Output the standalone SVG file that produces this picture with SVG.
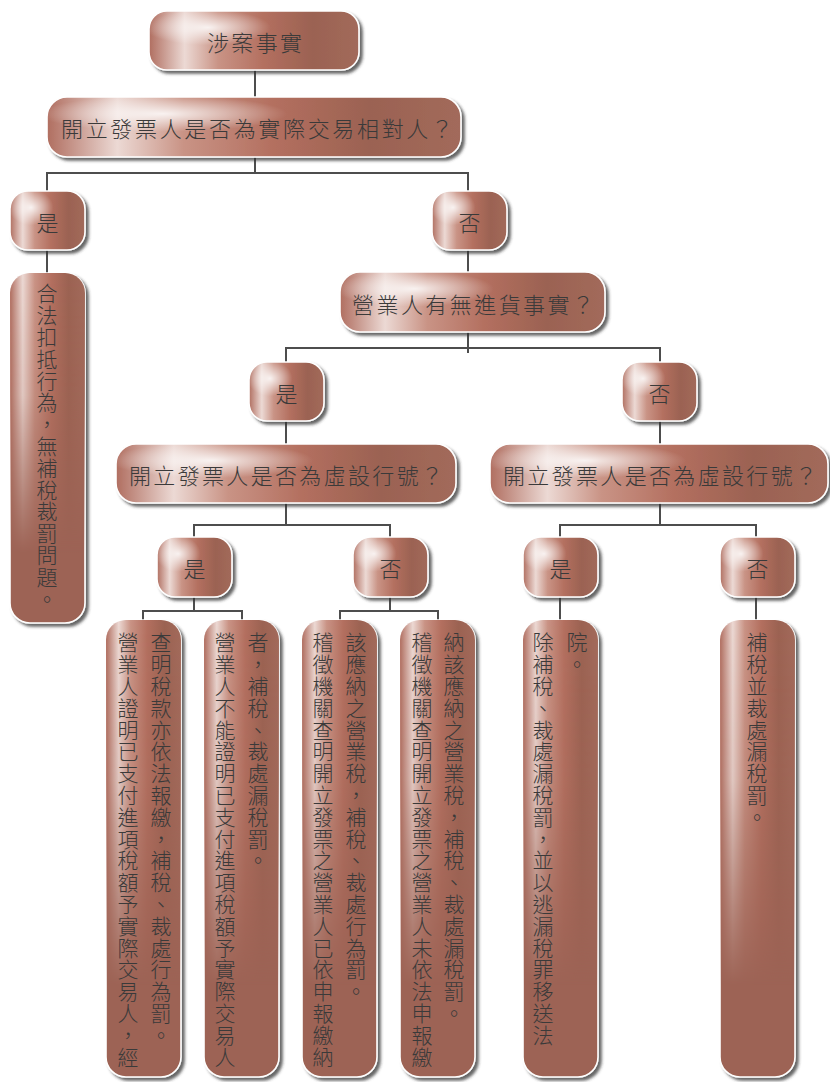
<svg xmlns="http://www.w3.org/2000/svg" width="830" height="1082" viewBox="0 0 830 1082">
<defs>
<linearGradient id="base" x1="0" y1="0" x2="1" y2="0">
<stop offset="0" stop-color="#b06e60"/>
<stop offset="0.17" stop-color="#ecd9d4"/>
<stop offset="0.33" stop-color="#c99385"/>
<stop offset="0.55" stop-color="#b36f5f"/>
<stop offset="0.78" stop-color="#9b6252"/>
<stop offset="1" stop-color="#a26a5b"/>
</linearGradient>
<radialGradient id="shine" cx="0.28" cy="0.28" r="0.3">
<stop offset="0" stop-color="#ffffff" stop-opacity="0.85"/>
<stop offset="1" stop-color="#ffffff" stop-opacity="0"/>
</radialGradient>
<linearGradient id="fade" x1="0" y1="0" x2="0" y2="1">
<stop offset="0" stop-color="#fff"/>
<stop offset="0.35" stop-color="#fff" stop-opacity="0.85"/>
<stop offset="0.8" stop-color="#fff" stop-opacity="0"/>
</linearGradient>
<mask id="tallMask" maskContentUnits="objectBoundingBox">
<rect x="0" y="0" width="1" height="1" fill="url(#fade)"/>
</mask>
<filter id="shadow" x="-20%" y="-20%" width="140%" height="140%">
<feDropShadow dx="3" dy="3" stdDeviation="1.5" flood-color="#333" flood-opacity="0.75"/>
</filter>
</defs>
<style>
.box { fill: url(#base); stroke: #ffffff; stroke-width: 1.6; filter: url(#shadow); }
.tall { fill: #9d6454; stroke: #ffffff; stroke-width: 1.6; filter: url(#shadow); }
.hl { fill: url(#base); }
.sh { fill: url(#shine); }
.t { font-family: "Noto Sans CJK TC", "Noto Sans CJK SC", sans-serif; font-size: 22px; font-weight: 300; fill: #3a3a3a; dominant-baseline: central; }
.c { text-anchor: middle; }
.v { font-family: "Noto Sans CJK TC", "Noto Sans CJK SC", sans-serif; font-size: 21px; font-weight: 300; letter-spacing: 0.8px; fill: #3a3a3a; writing-mode: vertical-rl; }
.ln { stroke: #4d4d4d; stroke-width: 2; fill: none; }
</style>

<g id="connectors" class="ln">
<path d="M255,70 V97"/>
<path d="M255,157 V173 M47,191 V173 H468 V191"/>
<path d="M47,250 V273"/>
<path d="M468,250 V272"/>
<path d="M468,332 V353 M286,362 V348 H660 V362"/>
<path d="M286,421 V444 M660,421 V444"/>
<path d="M286,503 V525 M194,537 V525 H390 V537"/>
<path d="M660,503 V525 M560,537 V525 H756 V537"/>
<path d="M194,597 V611 M143,620 V611 H242 V620"/>
<path d="M390,597 V611 M340,620 V611 H438 V620"/>
<path d="M560,597 V620 M756,597 V620"/>
</g>

<g id="n1">
<rect class="box" x="149" y="11" width="210" height="59" rx="18"/>
<rect class="sh" x="149" y="11" width="210" height="59" rx="18"/>
<text class="t" x="207" y="41" textLength="95" lengthAdjust="spacing">涉案事實</text>
</g>
<g id="n2">
<rect class="box" x="47" y="97" width="414" height="60" rx="20"/>
<rect class="sh" x="47" y="97" width="414" height="60" rx="20"/>
<text class="t" x="61" y="127" textLength="392" lengthAdjust="spacing">開立發票人是否為實際交易相對人？</text>
</g>
<g id="n3">
<rect class="box" x="10" y="191" width="75" height="59" rx="18"/>
<rect class="sh" x="10" y="191" width="75" height="59" rx="18"/>
<text class="t c" x="47.5" y="221">是</text>
</g>
<g id="n4">
<rect class="box" x="432" y="191" width="75" height="59" rx="18"/>
<rect class="sh" x="432" y="191" width="75" height="59" rx="18"/>
<text class="t c" x="469.5" y="221">否</text>
</g>
<g id="n5">
<rect class="tall" x="10" y="273" width="75" height="350" rx="20"/>
<rect class="hl" x="10" y="273" width="75" height="350" rx="20" mask="url(#tallMask)"/>
<text class="v" x="47" y="283">合法扣抵行為，無補稅裁罰問題。</text>
</g>
<g id="n6">
<rect class="box" x="340" y="272" width="265" height="60" rx="20"/>
<rect class="sh" x="340" y="272" width="265" height="60" rx="20"/>
<text class="t" x="352" y="303" textLength="242" lengthAdjust="spacing">營業人有無進貨事實？</text>
</g>
<g id="n7">
<rect class="box" x="249" y="362" width="75" height="59" rx="18"/>
<rect class="sh" x="249" y="362" width="75" height="59" rx="18"/>
<text class="t c" x="286.5" y="392">是</text>
</g>
<g id="n8">
<rect class="box" x="622" y="362" width="75" height="59" rx="18"/>
<rect class="sh" x="622" y="362" width="75" height="59" rx="18"/>
<text class="t c" x="659.5" y="392">否</text>
</g>
<g id="n9">
<rect class="box" x="116" y="444" width="340" height="59" rx="20"/>
<rect class="sh" x="116" y="444" width="340" height="59" rx="20"/>
<text class="t" x="129" y="474" textLength="314" lengthAdjust="spacing">開立發票人是否為虛設行號？</text>
</g>
<g id="n10">
<rect class="box" x="490" y="444" width="338" height="59" rx="20"/>
<rect class="sh" x="490" y="444" width="338" height="59" rx="20"/>
<text class="t" x="503" y="474" textLength="314" lengthAdjust="spacing">開立發票人是否為虛設行號？</text>
</g>
<g id="n11">
<rect class="box" x="157" y="537" width="75" height="60" rx="18"/>
<rect class="sh" x="157" y="537" width="75" height="60" rx="18"/>
<text class="t c" x="194.5" y="567">是</text>
</g>
<g id="n12">
<rect class="box" x="353" y="537" width="75" height="60" rx="18"/>
<rect class="sh" x="353" y="537" width="75" height="60" rx="18"/>
<text class="t c" x="390.5" y="567">否</text>
</g>
<g id="n13">
<rect class="box" x="523" y="537" width="75" height="60" rx="18"/>
<rect class="sh" x="523" y="537" width="75" height="60" rx="18"/>
<text class="t c" x="560.5" y="567">是</text>
</g>
<g id="n14">
<rect class="box" x="720" y="537" width="75" height="60" rx="18"/>
<rect class="sh" x="720" y="537" width="75" height="60" rx="18"/>
<text class="t c" x="757.5" y="567">否</text>
</g>
<g id="n15">
<rect class="tall" x="106" y="620" width="75" height="457" rx="20"/>
<rect class="hl" x="106" y="620" width="75" height="457" rx="20" mask="url(#tallMask)"/>
<text class="v" x="128" y="632">營業人證明已支付進項稅額予實際交易人，經</text>
<text class="v" x="161" y="632">查明稅款亦依法報繳，補稅、裁處行為罰。</text>
</g>
<g id="n16">
<rect class="tall" x="204" y="620" width="75" height="457" rx="20"/>
<rect class="hl" x="204" y="620" width="75" height="457" rx="20" mask="url(#tallMask)"/>
<text class="v" x="225" y="632">營業人不能證明已支付進項稅額予實際交易人</text>
<text class="v" x="258" y="632">者，補稅、裁處漏稅罰。</text>
</g>
<g id="n17">
<rect class="tall" x="302" y="620" width="75" height="457" rx="20"/>
<rect class="hl" x="302" y="620" width="75" height="457" rx="20" mask="url(#tallMask)"/>
<text class="v" x="323" y="632">稽徵機關查明開立發票之營業人已依申報繳納</text>
<text class="v" x="356" y="632">該應納之營業稅，補稅、裁處行為罰。</text>
</g>
<g id="n18">
<rect class="tall" x="400" y="620" width="75" height="457" rx="20"/>
<rect class="hl" x="400" y="620" width="75" height="457" rx="20" mask="url(#tallMask)"/>
<text class="v" x="422" y="632">稽徵機關查明開立發票之營業人未依法申報繳</text>
<text class="v" x="454" y="632">納該應納之營業稅，補稅、裁處漏稅罰。</text>
</g>
<g id="n19">
<rect class="tall" x="523" y="620" width="75" height="457" rx="20"/>
<rect class="hl" x="523" y="620" width="75" height="457" rx="20" mask="url(#tallMask)"/>
<text class="v" x="543" y="632">除補稅、裁處漏稅罰，並以逃漏稅罪移送法</text>
<text class="v" x="577" y="632">院。</text>
</g>
<g id="n20">
<rect class="tall" x="720" y="620" width="75" height="457" rx="20"/>
<rect class="hl" x="720" y="620" width="75" height="457" rx="20" mask="url(#tallMask)"/>
<text class="v" x="757" y="632">補稅並裁處漏稅罰。</text>
</g>
</svg>
